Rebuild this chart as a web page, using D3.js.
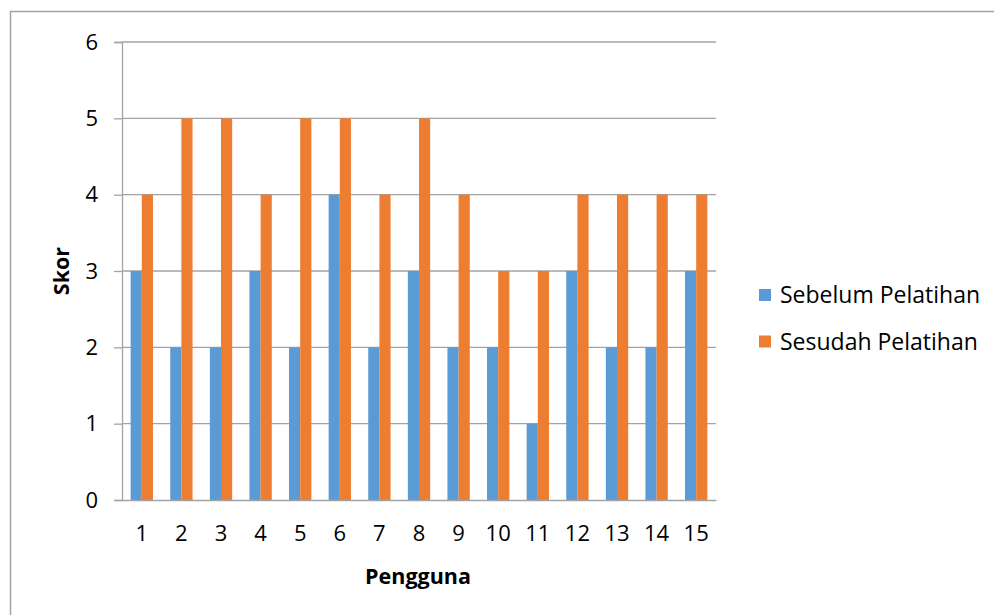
<!DOCTYPE html>
<html>
<head>
<meta charset="utf-8">
<script src="https://cdn.jsdelivr.net/npm/d3@7"></script>
<style>
  html, body { margin: 0; padding: 0; background: #fff; }
  svg { display: block; }
  text { font-family: "Open Sans", "Noto Sans", sans-serif; fill: #000; }
</style>
</head>
<body>
<svg id="chart" width="994" height="615"></svg>
<script>
const categories = ["1","2","3","4","5","6","7","8","9","10","11","12","13","14","15"];
const seriesNames = ["Sebelum Pelatihan", "Sesudah Pelatihan"];
const sebelum = [3,2,2,3,2,4,2,3,2,2,1,3,2,2,3];
const sesudah = [4,5,5,4,5,5,4,5,4,3,3,4,4,4,4];
const yTicks = [0,1,2,3,4,5,6];
const colors = ["#5B9BD5", "#ED7D31"];
const xTitle = "Pengguna";
const yTitle = "Skor";

const svg = d3.select("#chart");

// outer chart border (extends past the viewport on right/bottom)
svg.append("rect")
  .attr("x", 10.5).attr("y", 11.5)
  .attr("width", 1100).attr("height", 800)
  .attr("fill", "none").attr("stroke", "#a3a3a3").attr("stroke-width", 1.5);

const plot = { left: 122, right: 716, top: 42, bottom: 500 };

const x = d3.scaleBand().domain(categories).range([plot.left, plot.right]).padding(0);
const sub = d3.scaleBand().domain(seriesNames)
  .range([x.bandwidth() * 0.218, x.bandwidth() * 0.782]).padding(0);
const y = d3.scaleLinear().domain([0, 6]).range([plot.bottom, plot.top]);

// gridlines + y ticks
const yAxis = d3.axisLeft(y).tickValues(yTicks).tickSize(8).tickPadding(16).tickFormat(d3.format("d"));
const gy = svg.append("g").attr("transform", `translate(${plot.left},0)`).call(yAxis);
gy.select(".domain").attr("stroke", "#a3a3a3").attr("stroke-width", 1.3);
gy.selectAll(".tick line").attr("stroke", "#a3a3a3").attr("stroke-width", 1.3);
gy.selectAll(".tick text").attr("font-size", 22).attr("font-family", "Open Sans").attr("fill", "#000");

svg.append("g").selectAll("line").data(yTicks.filter(d => d > 0)).join("line")
  .attr("x1", plot.left).attr("x2", plot.right)
  .attr("y1", d => y(d)).attr("y2", d => y(d))
  .attr("stroke", "#a3a3a3").attr("stroke-width", 1.3);

// bars
const rows = categories.map((c, i) => ({ cat: c, vals: [sebelum[i], sesudah[i]] }));
const g = svg.append("g");
g.selectAll("g").data(rows).join("g")
  .attr("transform", d => `translate(${x(d.cat)},0)`)
  .selectAll("rect").data(d => d.vals.map((v, j) => ({ name: seriesNames[j], v, j })))
  .join("rect")
  .attr("x", d => sub(d.name))
  .attr("width", sub.bandwidth())
  .attr("y", d => y(d.v))
  .attr("height", d => y(0) - y(d.v))
  .attr("fill", d => colors[d.j]);

// x axis
const xAxis = d3.axisBottom(x).tickSize(0).tickPadding(25);
const gx = svg.append("g").attr("transform", `translate(0,${plot.bottom})`).call(xAxis);
gx.select(".domain").attr("stroke", "#a3a3a3").attr("stroke-width", 1.3);
gx.selectAll(".tick text").attr("font-size", 22).attr("font-family", "Open Sans").attr("fill", "#000");

// axis titles
svg.append("text").attr("x", 418).attr("y", 584)
  .attr("text-anchor", "middle").attr("font-size", 21.5).attr("font-weight", "bold").text(xTitle);
svg.append("text").attr("transform", `translate(69,${(plot.top + plot.bottom) / 2}) rotate(-90)`)
  .attr("text-anchor", "middle").attr("font-size", 21.5).attr("font-weight", "bold").text(yTitle);

// legend
const legend = svg.append("g");
seriesNames.forEach((n, i) => {
  const cy = 295 + i * 46.5;
  legend.append("rect").attr("x", 759).attr("y", cy - 6).attr("width", 12).attr("height", 12).attr("fill", colors[i]);
  legend.append("text").attr("x", 780).attr("y", cy).attr("dy", "0.35em")
    .attr("font-size", 23).text(n);
});
</script>
</body>
</html>
